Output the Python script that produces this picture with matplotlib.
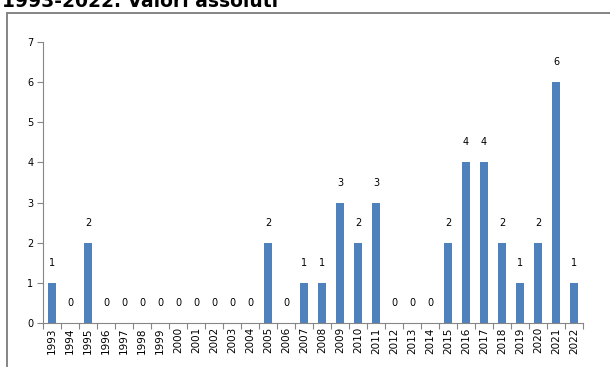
import matplotlib
matplotlib.use('Agg')
import matplotlib.pyplot as plt
from matplotlib.patches import Rectangle

# Dati: valori assoluti per anno
anni = [str(a) for a in range(1993, 2023)]
valori = [1, 0, 2, 0, 0, 0, 0, 0, 0, 0, 0, 0, 2, 0, 1, 1, 3, 2, 3,
          0, 0, 0, 2, 4, 4, 2, 1, 2, 6, 1]
titolo = '1993-2022. Valori assoluti'

W, H = 610, 367
fig = plt.figure(figsize=(W / 100, H / 100), dpi=100)

# cornice grigia del grafico
fig.patches.append(Rectangle((7 / W, -0.1), 1.2, 1.1 - 13 / H,
                             transform=fig.transFigure, fill=False,
                             edgecolor='#858585', linewidth=1.4))

fig.text(2 / W, 1 - 7 / H, titolo, fontsize=13.5, fontweight='bold',
         ha='left', va='baseline')

ax = fig.add_axes([43 / W, 1 - 323 / H, (583 - 43) / W, (323 - 42) / H])
x = range(len(anni))
ax.bar(x, valori, width=0.4, color='#4f81bd')
for i, v in enumerate(valori):
    ax.text(i, v + 0.5, str(v), ha='center', va='center', fontsize=7)

ax.set_xlim(-0.5, len(anni) - 0.5)
ax.set_ylim(0, 7)
ax.set_yticks(range(0, 8))
ax.set_xticks([i - 0.5 for i in range(len(anni) + 1)])
ax.set_xticklabels([])
ax.set_xticks(list(x), minor=True)
ax.set_xticklabels(anni, minor=True, rotation=90, fontsize=7.5)
ax.tick_params(axis='x', which='minor', length=0, pad=3)
ax.tick_params(axis='x', which='major', length=4, color='#868686')
ax.tick_params(axis='y', length=4, color='#868686', labelsize=7, pad=3)
for s in ['top', 'right']:
    ax.spines[s].set_visible(False)
for s in ['left', 'bottom']:
    ax.spines[s].set_color('#868686')

fig.savefig('out.png', dpi=100)
